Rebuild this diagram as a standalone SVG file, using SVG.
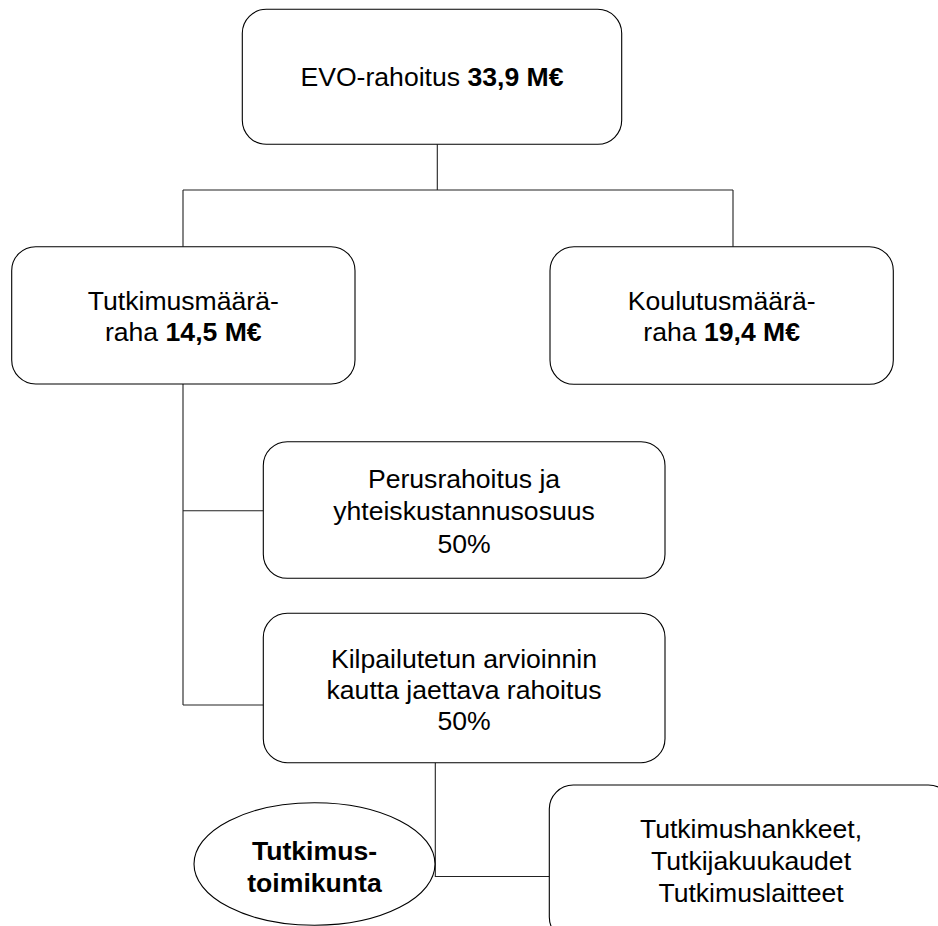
<svg xmlns="http://www.w3.org/2000/svg" width="938" height="926" viewBox="0 0 938 926">
<style>
.box{fill:#fff;stroke:#000;stroke-width:1.1}
.t{font-family:"Liberation Sans",Arial,Helvetica,sans-serif;font-size:26.6px;fill:#000;text-anchor:middle}
.b{font-weight:bold}
.c{fill:none;stroke:#222;stroke-width:1.1}
</style>
<rect width="938" height="926" fill="#fff"/>
<g id="connectors">
<path class="c" d="M437.3 144.3V190M183 190H733M183 190V246.7M733 190V246.7M183 384V705M183 510.7H263.3M183 705H263.3M435.3 762.7V876.5H549.3"/>
</g>
<g id="evo">
<rect class="box" x="242.3" y="9.3" width="379.4" height="135" rx="24"/>
<text class="t" x="432" y="86">EVO-rahoitus <tspan class="b">33,9 M€</tspan></text>
</g>
<g id="tutkimusmaararaha">
<rect class="box" x="11.7" y="246.7" width="343.3" height="137.3" rx="24"/>
<text class="t" x="183.3" y="310">Tutkimusmäärä-</text>
<text class="t" x="183.3" y="341">raha <tspan class="b">14,5 M€</tspan></text>
</g>
<g id="koulutusmaararaha">
<rect class="box" x="550" y="246.7" width="343.3" height="137.6" rx="24"/>
<text class="t" x="721.7" y="310">Koulutusmäärä-</text>
<text class="t" x="721.7" y="341">raha <tspan class="b">19,4 M€</tspan></text>
</g>
<g id="perusrahoitus">
<rect class="box" x="263.3" y="441.7" width="401.7" height="136.6" rx="24"/>
<text class="t" x="464" y="488">Perusrahoitus ja</text>
<text class="t" x="464" y="520">yhteiskustannusosuus</text>
<text class="t" x="464" y="552.5">50%</text>
</g>
<g id="kilpailutettu">
<rect class="box" x="263.3" y="613.3" width="401.7" height="149.4" rx="24"/>
<text class="t" x="464" y="668">Kilpailutetun arvioinnin</text>
<text class="t" x="464" y="699">kautta jaettava rahoitus</text>
<text class="t" x="464" y="730">50%</text>
</g>
<g id="tutkimustoimikunta">
<ellipse class="box" cx="314.5" cy="864" rx="120.5" ry="61.3"/>
<text class="t b" x="314.5" y="860">Tutkimus-</text>
<text class="t b" x="314.5" y="891.5">toimikunta</text>
</g>
<g id="tutkimushankkeet">
<rect class="box" x="549.3" y="785" width="403" height="156" rx="24"/>
<text class="t" x="751" y="838">Tutkimushankkeet,</text>
<text class="t" x="751" y="870">Tutkijakuukaudet</text>
<text class="t" x="751" y="901.5">Tutkimuslaitteet</text>
</g>
</svg>
